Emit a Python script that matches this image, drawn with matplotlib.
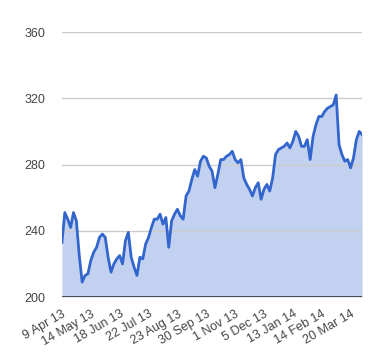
import matplotlib
matplotlib.use("Agg")
import matplotlib.pyplot as plt
import numpy as np

plt.rcParams['font.family'] = ['Liberation Sans', 'DejaVu Sans']

# price series, sampled evenly along the discrete axis
values = [233, 251, 247, 242, 251, 246, 225, 209, 213, 214,
          222, 227, 230, 236, 238, 236, 224, 215, 220, 223,
          225, 220, 234, 239, 224, 218, 213, 224, 223, 232,
          236, 242, 247, 247, 250, 244, 248, 230, 246, 250,
          253, 249, 247, 261, 264, 271, 277, 273, 282, 285,
          284, 279, 276, 266, 274, 283, 283, 285, 286, 288,
          283, 281, 283, 272, 268, 265, 261, 266, 269, 259,
          265, 268, 264, 272, 286, 289, 290, 291, 293, 290,
          294, 300, 297, 291, 291, 295, 283, 297, 304, 309,
          309, 312, 314, 315, 316, 322, 292, 286, 282, 283,
          278, 284, 295, 300, 298]
tick_labels = ['9 Apr 13', '14 May 13', '18 Jun 13', '22 Jul 13', '23 Aug 13',
               '30 Sep 13', '1 Nov 13', '5 Dec 13', '13 Jan 14', '14 Feb 14',
               '20 Mar 14']
y_ticks = [200, 240, 280, 320, 360]
label_step = 10

x = np.arange(len(values))

fig = plt.figure(figsize=(3.8, 3.6), dpi=100)
ax = fig.add_axes([0.163, 0.175, 0.79, 0.736])

ax.fill_between(x, 200, values, color='#c2d1f0', linewidth=0, zorder=1)
ax.plot(x, values, color='#3366cc', linewidth=2, zorder=3)

for yv in y_ticks[1:]:
    ax.axhline(yv, color='#cccccc', linewidth=1, zorder=2)
ax.axhline(200, color='#333333', linewidth=1.2, zorder=4)

ax.set_xlim(0, len(values) - 1)
ax.set_ylim(200, 360)
ax.set_yticks(y_ticks)
ax.set_yticklabels([str(v) for v in y_ticks], fontsize=9, color='#444444')
ax.set_xticks(x[::label_step][:len(tick_labels)])
ax.set_xticklabels(tick_labels, fontsize=9, color='#444444', rotation=30,
                   ha='right', rotation_mode='anchor')
ax.tick_params(axis='both', length=0)
ax.tick_params(axis='y', pad=12)
ax.tick_params(axis='x', pad=8)
for s in ax.spines.values():
    s.set_visible(False)

fig.savefig('out.png', dpi=100)
